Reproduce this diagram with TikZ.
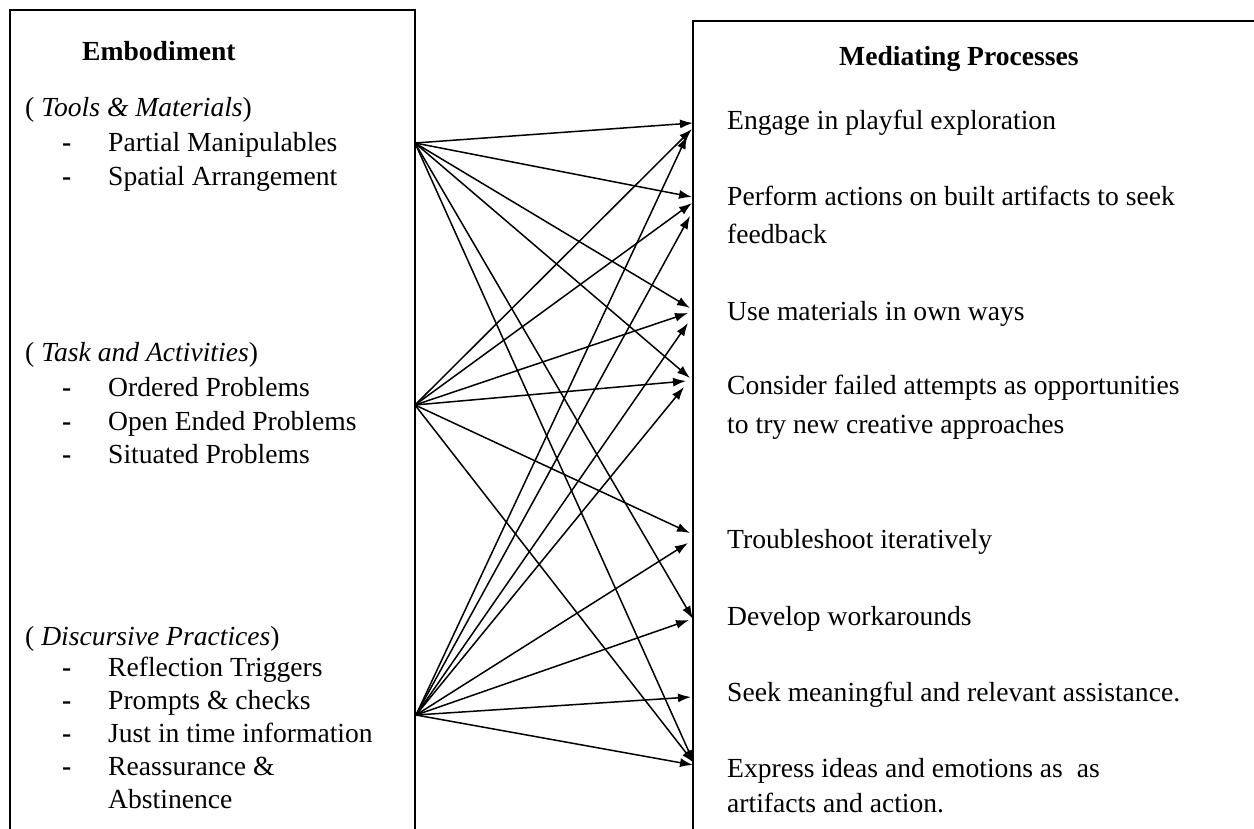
\documentclass[tikz,border=0pt]{standalone}
\usepackage{fontspec}
\setmainfont{Liberation Serif}
\usetikzlibrary{arrows.meta}
\newcommand\dashitem[1]{\makebox[46pt][l]{\textbf{-}}#1}
\begin{document}
\begin{tikzpicture}[x=1pt,y=-1pt,
  txt/.style={anchor=base west, inner sep=0pt, font=\fontsize{27.6}{34}\selectfont},
  head/.style={anchor=base west, inner sep=0pt, font=\fontsize{27.6}{34}\selectfont\bfseries},
  boxline/.style={line width=1.7pt},
  link/.style={line width=1.5pt, -{Latex[length=13pt,width=9pt]}}]
\useasboundingbox (0,0) rectangle (1254,829);
\fill[white] (0,0) rectangle (1254,829);

% open-bottom frames
\draw[boxline] (10,829) -- (10,10) -- (415,10) -- (415,829);
\draw[boxline] (693,829) -- (693,21) -- (1254,21);

% left column
\node[head] (emb) at (82,61) {Embodiment};
\node[txt] (tools) at (25,117) {( \textit{Tools \& Materials})};
\node[txt] (partial) at (62,152) {\dashitem{Partial Manipulables}};
\node[txt] (spatial) at (62,186) {\dashitem{Spatial Arrangement}};
\node[txt] (task) at (25,361) {( \textit{Task and Activities})};
\node[txt] (ordered) at (62,396) {\dashitem{Ordered Problems}};
\node[txt] (openended) at (62,430) {\dashitem{Open Ended Problems}};
\node[txt] (situated) at (62,463) {\dashitem{Situated Problems}};
\node[txt] (disc) at (25,645) {( \textit{Discursive Practices})};
\node[txt] (reflect) at (62,676) {\dashitem{Reflection Triggers}};
\node[txt] (prompts) at (62,709) {\dashitem{Prompts \& checks}};
\node[txt] (jit) at (62,742) {\dashitem{Just in time information}};
\node[txt] (reass) at (62,775) {\dashitem{Reassurance \&}};
\node[txt] (abst) at (108,808) {Abstinence};

% right column
\node[head] (med) at (839,66) {Mediating Processes};
\node[txt] (engage) at (727,130) {Engage in playful exploration};
\node[txt] (perform) at (727,206) {Perform actions on built artifacts to seek};
\node[txt] (perform2) at (727,244) {feedback};
\node[txt] (usemat) at (727,320) {Use materials in own ways};
\node[txt] (consider) at (727,394) {Consider failed attempts as opportunities};
\node[txt] (consider2) at (727,433) {to try new creative approaches};
\node[txt] (trouble) at (727,548) {Troubleshoot iteratively};
\node[txt] (develop) at (727,625) {Develop workarounds};
\node[txt] (seek) at (727,701) {Seek meaningful and relevant assistance.};
\node[txt] (express) at (727,777) {Express ideas and emotions as~\ as};
\node[txt] (express2) at (727,812) {artifacts and action.};

% sources on the left frame
\coordinate (s1) at (415,143);
\coordinate (s2) at (415,405);
\coordinate (s3) at (416,715);

% arrow tips on the right frame
\coordinate (eng-a) at (693,123);
\coordinate (eng-b) at (692,129);
\coordinate (eng-c) at (687,136);
\coordinate (per-a) at (692,197);
\coordinate (per-b) at (692,203);
\coordinate (per-c) at (690,216);
\coordinate (use-a) at (690,308);
\coordinate (use-b) at (688,313);
\coordinate (use-c) at (688,323);
\coordinate (con-a) at (690,378);
\coordinate (con-b) at (686,381);
\coordinate (con-c) at (684,387);
\coordinate (tro-b) at (690,533);
\coordinate (tro-c) at (688,543);
\coordinate (dev-a) at (693,619);
\coordinate (dev-c) at (689,620);
\coordinate (see-c) at (691,697);
\coordinate (exp-a) at (694,763);
\coordinate (exp-b) at (694,763);
\coordinate (exp-c) at (693,765);

% Tools & Materials
\draw[link] (s1) -- (eng-a);
\draw[link] (s1) -- (per-a);
\draw[link] (s1) -- (use-a);
\draw[link] (s1) -- (con-a);
\draw[link] (s1) -- (dev-a);
\draw[link] (s1) -- (exp-a);
% Task and Activities
\draw[link] (s2) -- (eng-b);
\draw[link] (s2) -- (per-b);
\draw[link] (s2) -- (use-b);
\draw[link] (s2) -- (con-b);
\draw[link] (s2) -- (tro-b);
\draw[link] (s2) -- (exp-b);
% Discursive Practices
\draw[link] (s3) -- (eng-c);
\draw[link] (s3) -- (per-c);
\draw[link] (s3) -- (use-c);
\draw[link] (s3) -- (con-c);
\draw[link] (s3) -- (tro-c);
\draw[link] (s3) -- (dev-c);
\draw[link] (s3) -- (see-c);
\draw[link] (s3) -- (exp-c);
\end{tikzpicture}
\end{document}
